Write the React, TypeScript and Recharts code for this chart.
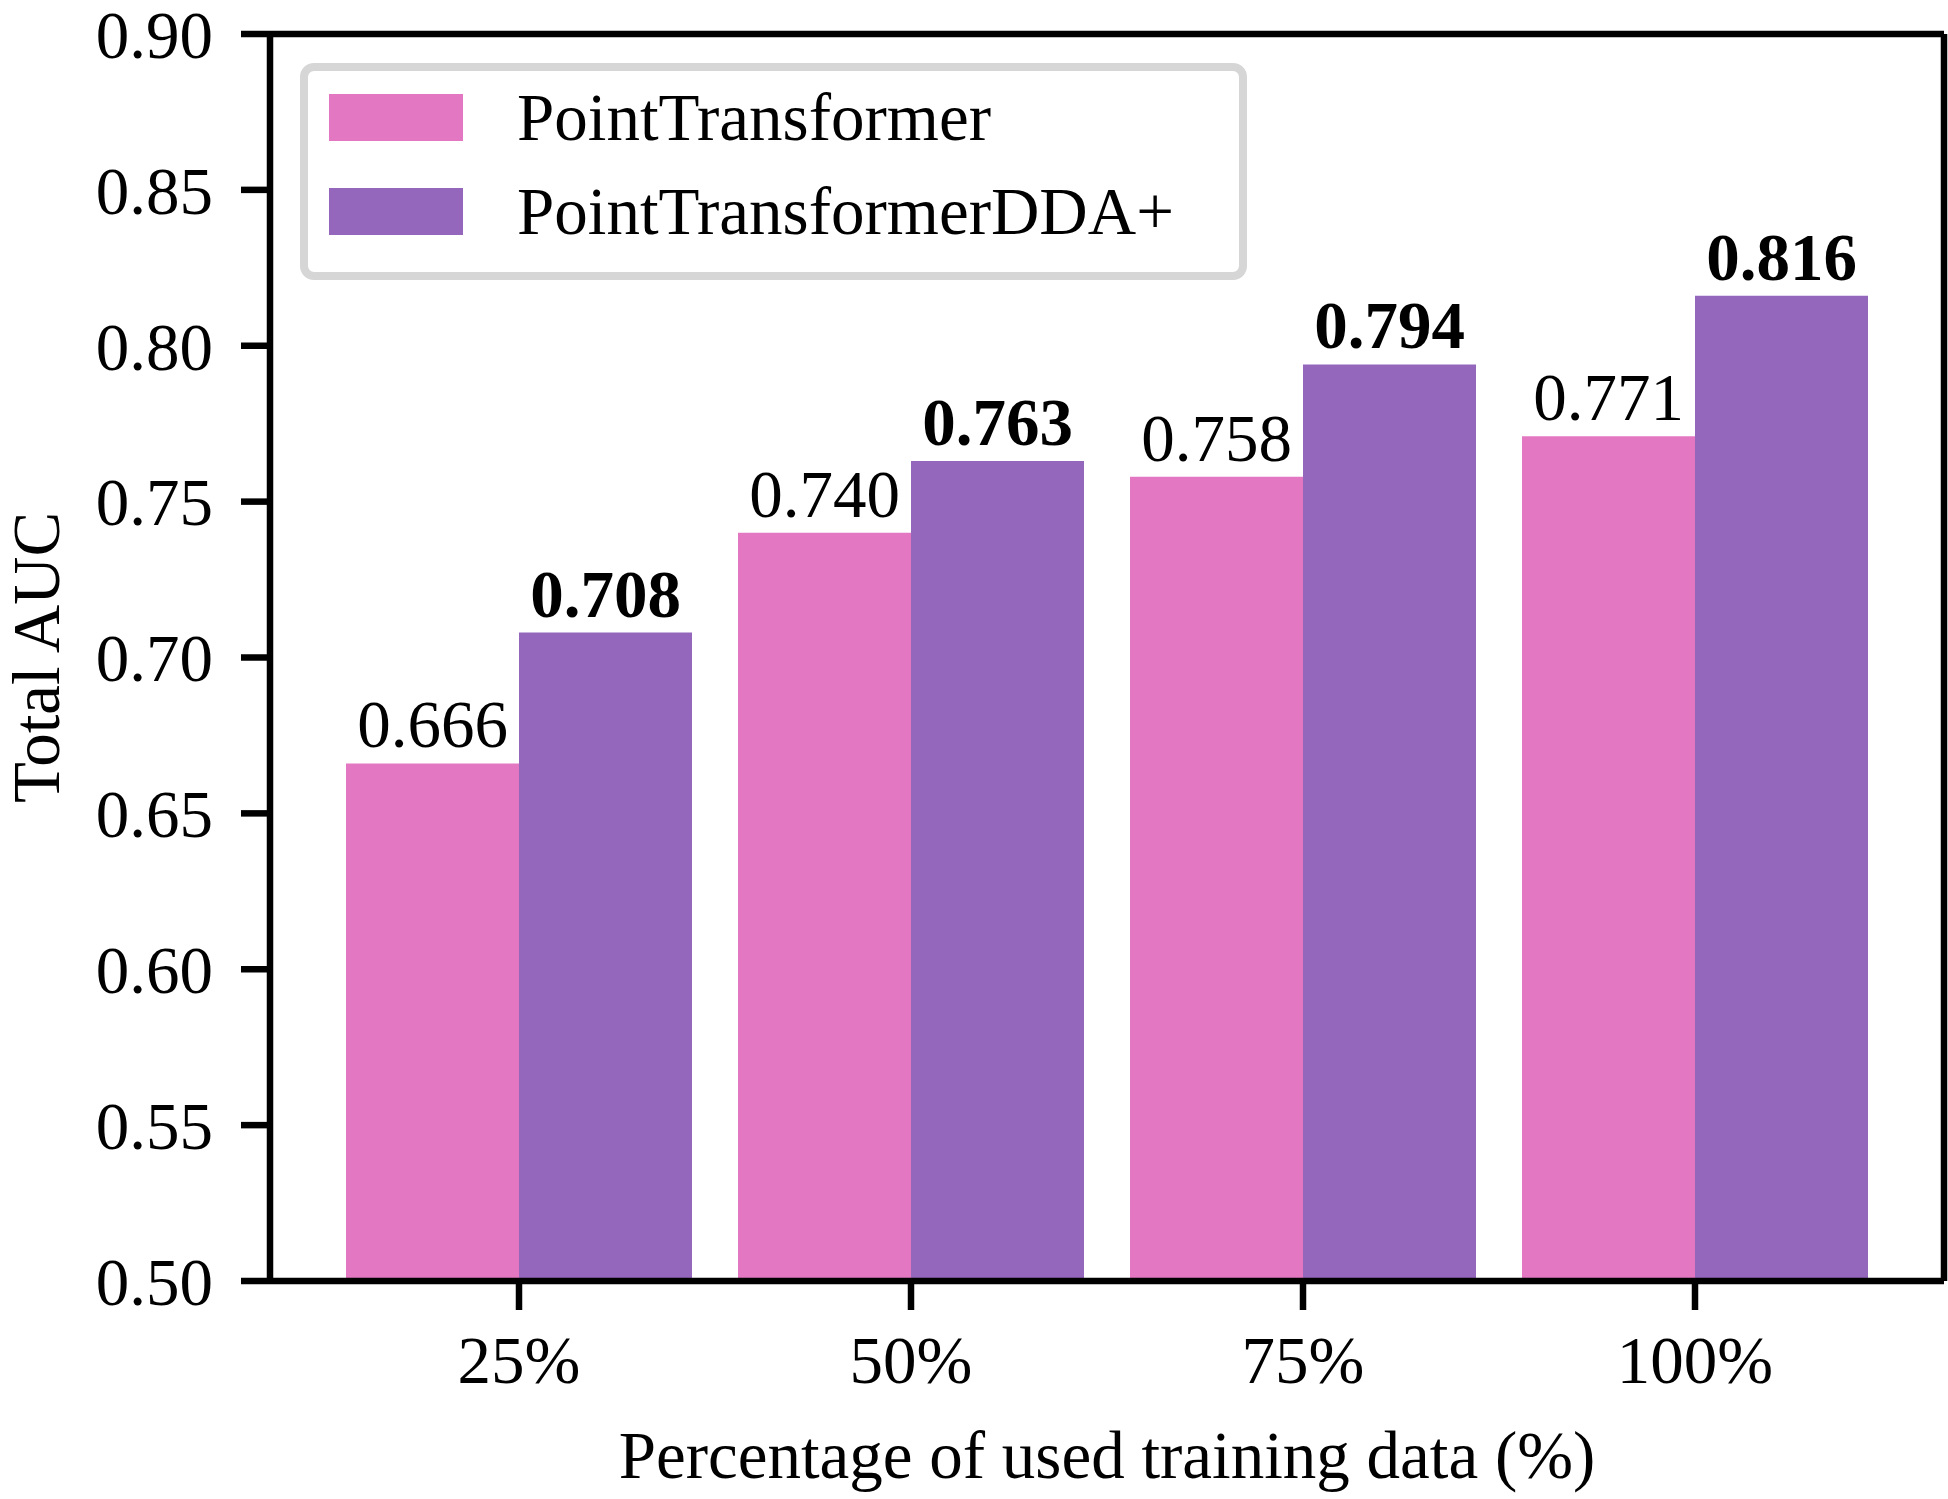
import { BarChart, Bar, XAxis, YAxis, LabelList, Label } from 'recharts'

const categories = ['25%', '50%', '75%', '100%']
const pointTransformer = [0.666, 0.74, 0.758, 0.771]
const pointTransformerDDA = [0.708, 0.763, 0.794, 0.816]
const yTicks = [0.5, 0.55, 0.6, 0.65, 0.7, 0.75, 0.8, 0.85, 0.9]
const seriesNames = ['PointTransformer', 'PointTransformerDDA+']
const seriesColors = ['#e377c2', '#9467bd']

const data = categories.map((name, i) => ({
  name,
  pt: pointTransformer[i],
  dda: pointTransformerDDA[i],
}))

const FONT = '"Liberation Serif", "Times New Roman", serif'
const FS = 67
const AXIS_W = 6.5

const XTick = (props: any) => {
  const { x, y, payload } = props
  return (
    <text x={x} y={y + 73} textAnchor="middle" fontFamily={FONT} fontSize={FS} fill="#000">
      {payload.value}
    </text>
  )
}

const YTick = (props: any) => {
  const { x, y, payload } = props
  return (
    <text x={x - 28} y={y} dy="0.355em" textAnchor="end" fontFamily={FONT} fontSize={FS} fill="#000">
      {Number(payload.value).toFixed(2)}
    </text>
  )
}

const barLabel = (bold: boolean) => (p: any) => (
  <text
    x={p.x + p.width / 2}
    y={p.y - 16}
    textAnchor="middle"
    fontFamily={FONT}
    fontSize={FS}
    fontWeight={bold ? 'bold' : 'normal'}
    fill="#000"
  >
    {Number(p.value).toFixed(3)}
  </text>
)

export default function App() {
  return (
    <div style={{ position: 'absolute', left: 0, top: 0, width: 1948, height: 1499, background: '#fff' }}>
      <BarChart
        width={1948}
        height={1499}
        data={data}
        margin={{ top: 33, right: 3, bottom: 0, left: 0 }}
        barCategoryGap={23}
        barGap={0}
      >
        <XAxis
          dataKey="name"
          height={218}
          interval={0}
          padding={{ left: 53, right: 53 }}
          tickSize={29}
          tickMargin={0}
          tick={XTick}
          tickLine={{ stroke: '#000', strokeWidth: AXIS_W }}
          axisLine={{ stroke: '#000', strokeWidth: AXIS_W }}
        >
          <Label
            content={(p: any) => (
              <text
                x={p.viewBox.x + p.viewBox.width / 2}
                y={p.viewBox.y + 197}
                textAnchor="middle"
                fontFamily={FONT}
                fontSize={FS}
                fill="#000"
              >
                Percentage of used training data (%)
              </text>
            )}
          />
        </XAxis>
        <XAxis
          xAxisId="top"
          dataKey="name"
          orientation="top"
          height={1}
          tick={false}
          tickLine={false}
          axisLine={{ stroke: '#000', strokeWidth: AXIS_W }}
        />
        <YAxis
          width={270}
          domain={[0.5, 0.9]}
          ticks={yTicks}
          allowDataOverflow
          tickSize={29}
          tickMargin={0}
          tick={YTick}
          tickLine={{ stroke: '#000', strokeWidth: AXIS_W }}
          axisLine={{ stroke: '#000', strokeWidth: AXIS_W }}
        >
          <Label
            content={(p: any) => {
              const cx = 59
              const cy = p.viewBox.y + p.viewBox.height / 2
              return (
                <text
                  x={cx}
                  y={cy}
                  transform={`rotate(-90, ${cx}, ${cy})`}
                  textAnchor="middle"
                  fontFamily={FONT}
                  fontSize={FS}
                  fill="#000"
                >
                  Total AUC
                </text>
              )
            }}
          />
        </YAxis>
        <YAxis
          yAxisId="right"
          orientation="right"
          width={1}
          domain={[0.5, 0.9]}
          tick={false}
          tickLine={false}
          axisLine={{ stroke: '#000', strokeWidth: AXIS_W }}
        />
        <Bar dataKey="pt" name={seriesNames[0]} fill={seriesColors[0]} isAnimationActive={false}>
          <LabelList dataKey="pt" content={barLabel(false)} />
        </Bar>
        <Bar dataKey="dda" name={seriesNames[1]} fill={seriesColors[1]} isAnimationActive={false}>
          <LabelList dataKey="dda" content={barLabel(true)} />
        </Bar>
      </BarChart>
      <svg
        width={1948}
        height={1499}
        style={{ position: 'absolute', left: 0, top: 0, pointerEvents: 'none' }}
      >
        <rect x={304} y={67} width={939} height={209} rx={10} ry={10} fill="#fff" stroke="#d6d6d6" strokeWidth={8} />
        {seriesNames.map((name, i) => (
          <g key={name}>
            <rect x={329} y={94 + i * 94} width={134} height={47} fill={seriesColors[i]} />
            <text x={517} y={140 + i * 94} fontFamily={FONT} fontSize={FS} fill="#000">
              {name}
            </text>
          </g>
        ))}
      </svg>
    </div>
  )
}
